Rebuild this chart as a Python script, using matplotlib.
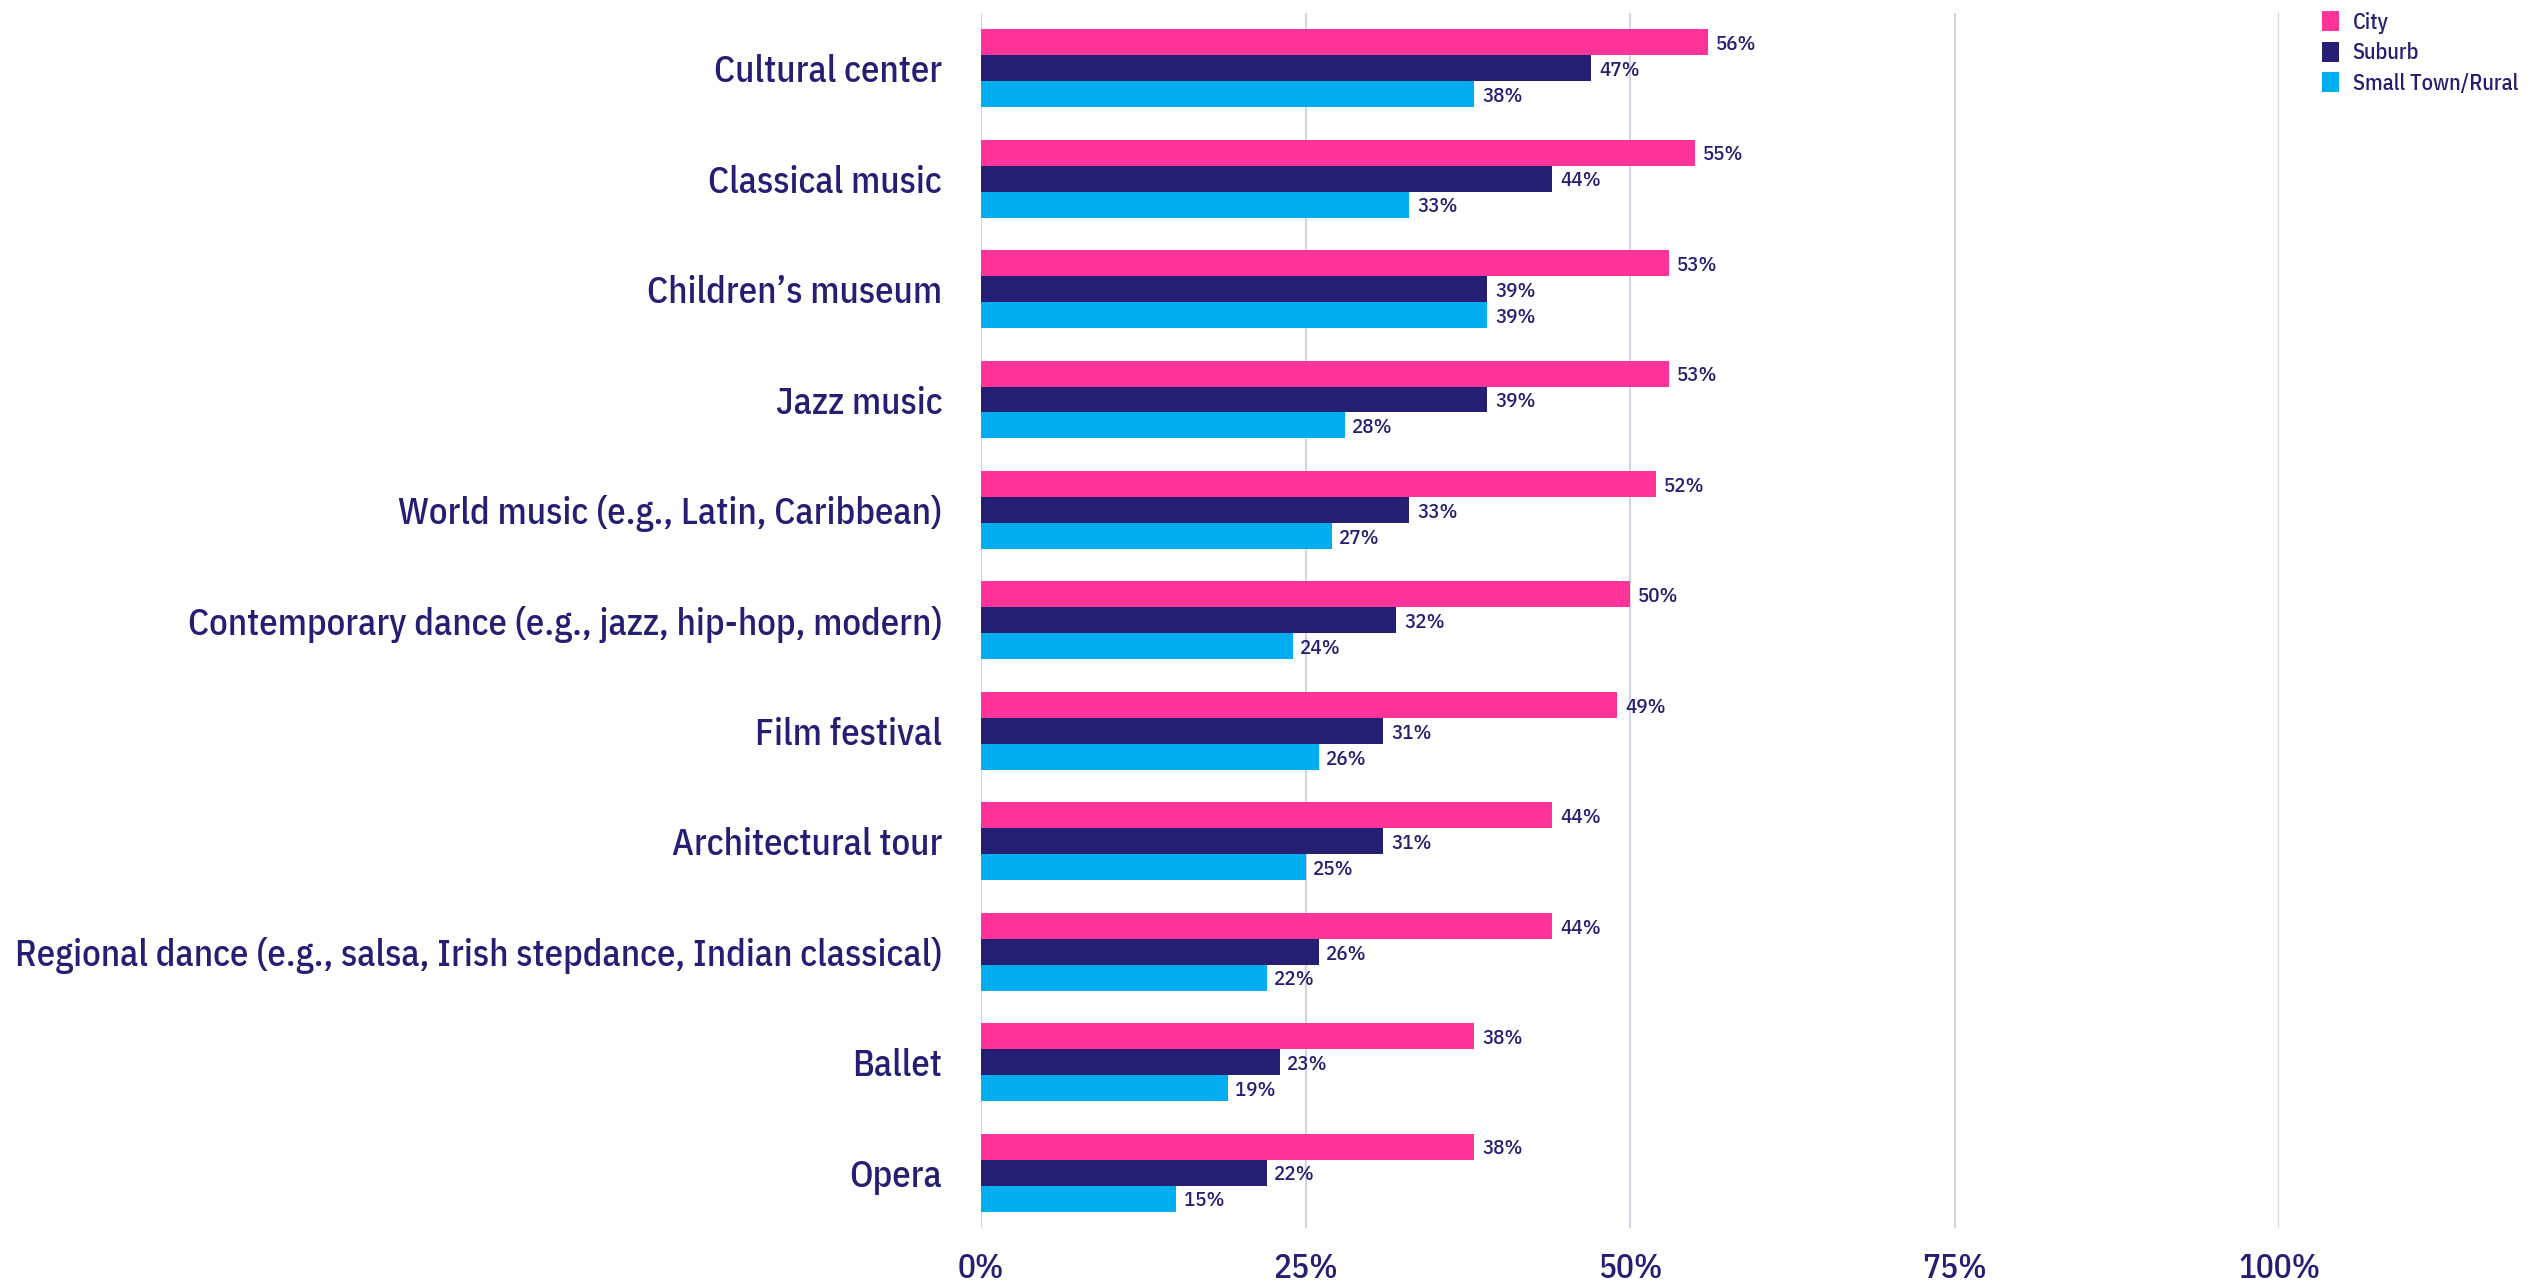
import numpy as np
import matplotlib
matplotlib.use('Agg')
import matplotlib.pyplot as plt
from matplotlib.patches import Patch

plt.rcParams['font.family'] = ['IBM Plex Sans Condensed', 'DejaVu Sans']
plt.rcParams['font.weight'] = 500

# ── Data ─────────────────────────────────────────────────────────────────────
categories = [
    'Cultural center',
    'Classical music',
    'Children\u2019s museum',
    'Jazz music',
    'World music (e.g., Latin, Caribbean)',
    'Contemporary dance (e.g., jazz, hip-hop, modern)',
    'Film festival',
    'Architectural tour',
    'Regional dance (e.g., salsa, Irish stepdance, Indian classical)',
    'Ballet',
    'Opera',
]
city = [56, 55, 53, 53, 52, 50, 49, 44, 44, 38, 38]
suburb = [47, 44, 39, 39, 33, 32, 31, 31, 26, 23, 22]
rural = [38, 33, 39, 28, 27, 24, 26, 25, 22, 19, 15]
series_names = ['City', 'Suburb', 'Small Town/Rural']
x_ticks = [0, 25, 50, 75, 100]
x_ticklabels = ['0%', '25%', '50%', '75%', '100%']

# ── Style ────────────────────────────────────────────────────────────────────
colors = ['#ff3399', '#241f73', '#00aeef']
text_color = '#241f73'
grid_color = '#d0d6e2'

fig = plt.figure(figsize=(25.33, 12.88), dpi=100)
ax = fig.add_axes([0.3873, 0.0466, 0.5125, 0.9434])

y = np.arange(len(categories))
h = 0.235
for i, (vals, color) in enumerate(zip([city, suburb, rural], colors)):
    pos = y + (i - 1) * h
    ax.barh(pos, vals, height=h, color=color, zorder=3)
    for p, v in zip(pos, vals):
        ax.text(v + 0.6, p + 0.02, f'{v}%', va='center', ha='left',
                fontsize=15, color=text_color, zorder=4)

ax.set_ylim(len(categories) - 0.5, -0.5)
ax.set_xlim(0, 100)
ax.set_yticks(y)
ax.set_yticklabels(categories, fontsize=26.5, color=text_color)
ax.set_xticks(x_ticks)
ax.set_xticklabels(x_ticklabels, fontsize=24, color=text_color)
ax.tick_params(axis='y', length=0, pad=28)
ax.tick_params(axis='x', length=0, pad=18)
ax.xaxis.grid(True, color=grid_color, linewidth=1.5, zorder=0)
ax.yaxis.grid(False)
for s in ax.spines.values():
    s.set_visible(False)

handles = [Patch(facecolor=c, label=n) for c, n in zip(colors, series_names)]
leg = fig.legend(handles=handles, loc='upper left', bbox_to_anchor=(0.913, 0.998),
                 frameon=False, fontsize=16, handlelength=0.8, handleheight=1.0,
                 handletextpad=0.6, labelspacing=0.35, borderaxespad=0)
for t in leg.get_texts():
    t.set_color(text_color)

fig.savefig('out.png', dpi=100)
